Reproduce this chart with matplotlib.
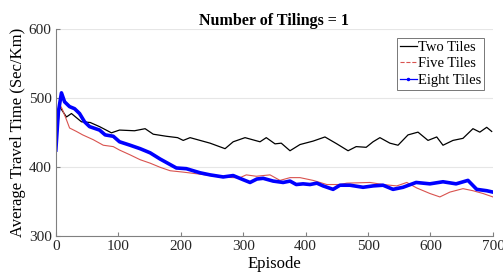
import matplotlib
matplotlib.use("Agg")
import matplotlib.pyplot as plt
from matplotlib.lines import Line2D

two_x = [0, 6, 17, 25, 41, 55, 70, 89, 102, 126, 143, 156, 177, 195, 204, 215, 231, 247, 271, 284, 303, 327, 337, 351, 361, 375, 391, 412, 431, 450, 468, 481, 497, 508, 519, 535, 548, 564, 580, 596, 610, 620, 636, 652, 668, 679, 690, 698]
two_y = [425, 488, 473, 478, 466, 465, 459, 450, 454, 453, 456, 448, 445, 443, 439, 443, 439, 435, 427, 437, 443, 437, 443, 434, 435, 424, 433, 438, 444, 434, 424, 430, 429, 437, 443, 435, 432, 447, 451, 439, 444, 432, 439, 442, 456, 451, 458, 452]

five_x = [0, 5, 10, 17, 22, 33, 43, 60, 76, 92, 102, 119, 135, 151, 167, 183, 204, 231, 263, 284, 295, 305, 321, 343, 359, 375, 391, 412, 434, 455, 466, 503, 524, 546, 562, 578, 599, 615, 631, 652, 668, 684, 700]
five_y = [425, 493, 485, 469, 457, 452, 447, 440, 432, 430, 425, 418, 411, 406, 400, 395, 393, 390, 386, 385, 385, 389, 387, 389, 381, 385, 385, 381, 375, 375, 377, 378, 375, 373, 378, 370, 362, 357, 364, 369, 366, 362, 357]

eight_x = [0, 4, 9, 14, 22, 30, 38, 46, 54, 70, 79, 92, 102, 119, 135, 151, 167, 177, 193, 209, 231, 247, 268, 284, 300, 311, 322, 332, 348, 364, 375, 385, 396, 407, 418, 428, 444, 455, 471, 492, 508, 524, 540, 556, 577, 599, 620, 641, 660, 674, 690, 700]
eight_y = [425, 480, 508, 495, 488, 485, 478, 466, 459, 454, 447, 445, 437, 432, 427, 421, 412, 407, 399, 398, 392, 389, 386, 388, 382, 378, 383, 384, 380, 378, 380, 375, 376, 375, 377, 373, 368, 374, 374, 371, 373, 374, 368, 371, 378, 376, 379, 376, 381, 368, 366, 364]

labels = ["Two Tiles", "Five Tiles", "Eight Tiles"]
xticks = [0, 100, 200, 300, 400, 500, 600, 700]
yticks = [300, 400, 500, 600]

plt.rcParams['font.family'] = ['Liberation Serif', 'DejaVu Serif']

fig = plt.figure(figsize=(5.03, 2.75), dpi=100)
ax = fig.add_axes([0.111, 0.141, 0.869, 0.752])

red = '#d9534f'
ax.plot(two_x, two_y, color='black', lw=0.9)
ax.plot(five_x, five_y, color=red, lw=0.8)
ax.plot(eight_x, eight_y, color='#0000ff', lw=2.6)

ax.set_xlim(0, 700)
ax.set_ylim(300, 600)
ax.set_xticks(xticks)
ax.set_yticks(yticks)
ax.yaxis.grid(True, color='#e6e6e6', lw=0.8)
ax.set_axisbelow(True)
for s in ['top', 'right']:
    ax.spines[s].set_visible(False)
for s in ['left', 'bottom']:
    ax.spines[s].set_color('#808080')
    ax.spines[s].set_linewidth(0.8)
ax.tick_params(direction='in', length=3, color='#808080', labelsize=11, labelcolor='#262626', pad=3)

ax.set_title("Number of Tilings = 1", fontsize=11.5, fontweight='bold', pad=2)
ax.set_xlabel("Episode", fontsize=12, labelpad=2)
ax.set_ylabel("Average Travel Time (Sec/Km)", fontsize=12, labelpad=2)

handles = [Line2D([], [], color='black', lw=0.9),
           Line2D([], [], color=red, lw=0.8, ls='--'),
           Line2D([], [], color='#0000ff', lw=0.9, marker='.', markersize=3)]
leg = ax.legend(handles, labels, loc='upper right', fontsize=10.5, frameon=True, fancybox=False,
                edgecolor='#555555', handlelength=1.15, handletextpad=0.1, borderpad=0.2,
                labelspacing=0.22, borderaxespad=0.3, bbox_to_anchor=(0.99, 0.98))
leg.get_frame().set_linewidth(0.7)

fig.savefig("out.png", dpi=100)
